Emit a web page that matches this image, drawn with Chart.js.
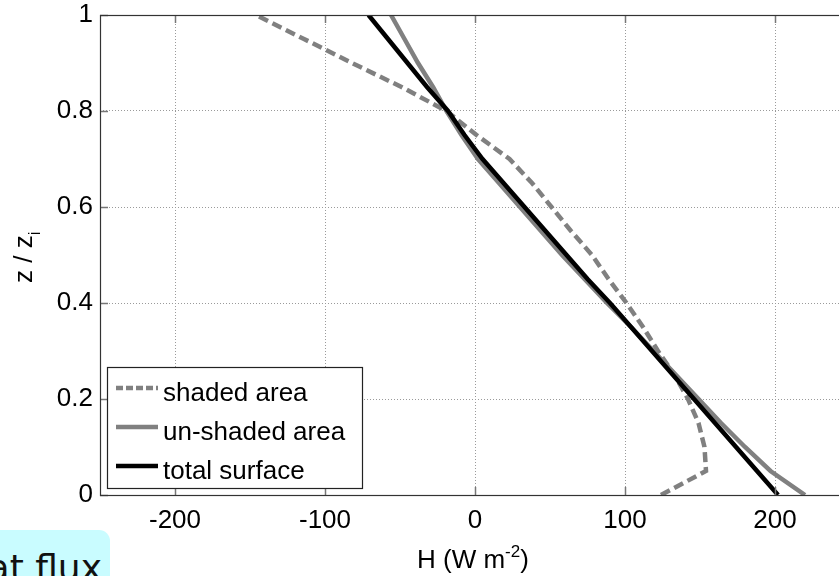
<!DOCTYPE html>
<html>
<head>
<meta charset="utf-8">
<script src="https://cdn.jsdelivr.net/npm/chart.js@4/dist/chart.umd.min.js"></script>
<style>
  html, body { margin: 0; padding: 0; background: #ffffff; overflow: hidden; width: 839px; height: 576px; }
  #wrap { position: relative; width: 839px; height: 576px; overflow: hidden; }
  canvas { position: absolute; left: 0; top: 0; }
  #note { position: absolute; left: 0; top: 530px; width: 110px; height: 60px; background: #c9fcff;
          border-top-right-radius: 11px; overflow: hidden; }
  #note span { position: absolute; right: 8px; top: 20px; font-family: "DejaVu Sans", sans-serif;
          font-size: 36px; color: #111; white-space: nowrap; line-height: 1; }
</style>
</head>
<body>
<div id="wrap">
  <canvas id="c" width="860" height="576"></canvas>
  <div id="note"><span>at flux</span></div>
</div>
<script>
// ---- data ----
const zLevels = [0, 0.05, 0.1, 0.15, 0.2, 0.25, 0.3, 0.35, 0.4, 0.45, 0.5, 0.55, 0.6, 0.65, 0.7, 0.75, 0.8, 0.85, 0.9, 0.95, 1];
const shadedH   = [124, 154, 153, 149, 142, 133, 122, 112, 101, 89, 78, 64, 51, 38, 23, 1, -19, -49, -82, -114, -146];
const unshadedH = [220, 197, 180, 164, 149, 134, 119, 104, 88, 73, 58, 44, 30, 16, 2, -9, -19, -28, -38, -47, -56];
const totalH    = [202, 188, 174, 160, 146, 132, 118, 104, 90, 75, 61, 47, 33, 19, 5, -7, -18, -32, -45, -58, -71];
const seriesNames = ['shaded area', 'un-shaded area', 'total surface'];
const xTicks = [-200, -100, 0, 100, 200];
const yTicks = [0, 0.2, 0.4, 0.6, 0.8, 1];

const FONT = "'Liberation Sans', Arial, Helvetica, sans-serif";

function pts(h) { return zLevels.map((z, i) => ({ x: h[i], y: z })); }

const styles = [
  { color: '#808080', dash: [10, 5], width: 4.5 },
  { color: '#808080', dash: [], width: 4.5 },
  { color: '#000000', dash: [], width: 4.5 }
];
const values = [shadedH, unshadedH, totalH];

const datasets = values.map((v, i) => ({
  label: seriesNames[i],
  data: pts(v),
  borderColor: styles[i].color,
  borderDash: styles[i].dash,
  borderWidth: styles[i].width,
  pointRadius: 0,
  tension: 0,
  fill: false,
  order: 3 - i
}));

const decor = {
  id: 'decor',
  afterDatasetsDraw(chart) {
    const ctx = chart.ctx;
    const a = chart.chartArea;
    const xs = chart.scales.x, ys = chart.scales.y;
    ctx.save();
    // inner tick marks
    ctx.strokeStyle = '#777';
    ctx.lineWidth = 1.5;
    ctx.setLineDash([]);
    xTicks.forEach(v => {
      const px = Math.round(xs.getPixelForValue(v)) + 0.5;
      ctx.beginPath();
      ctx.moveTo(px, a.bottom); ctx.lineTo(px, a.bottom - 8);
      ctx.moveTo(px, a.top); ctx.lineTo(px, a.top + 8);
      ctx.stroke();
    });
    yTicks.forEach(v => {
      const py = Math.round(ys.getPixelForValue(v)) + 0.5;
      ctx.beginPath();
      ctx.moveTo(a.left, py); ctx.lineTo(a.left + 8, py);
      ctx.moveTo(a.right, py); ctx.lineTo(a.right - 8, py);
      ctx.stroke();
    });
    // frame
    ctx.strokeStyle = '#333';
    ctx.lineWidth = 1.2;
    ctx.strokeRect(Math.round(a.left) + 0.5, Math.round(a.top) + 0.5, Math.round(a.right - a.left), Math.round(a.bottom - a.top));

    // legend
    const lx = 107, ly = 367, lw = 255, lh = 121;
    ctx.fillStyle = '#fff';
    ctx.fillRect(lx, ly, lw, lh);
    ctx.strokeStyle = '#222';
    ctx.lineWidth = 1.2;
    ctx.strokeRect(lx + 0.5, ly + 0.5, lw, lh);
    ctx.font = '26px ' + FONT;
    ctx.textAlign = 'left';
    ctx.textBaseline = 'alphabetic';
    seriesNames.forEach((name, i) => {
      const ry = 388 + i * 39;
      ctx.strokeStyle = styles[i].color;
      ctx.lineWidth = styles[i].width;
      ctx.setLineDash(styles[i].dash.length ? [7, 3] : []);
      ctx.beginPath();
      ctx.moveTo(116, ry); ctx.lineTo(158, ry);
      ctx.stroke();
      ctx.setLineDash([]);
      ctx.fillStyle = '#000';
      ctx.fillText(name, 163, ry + 13);
    });

    // x axis title: H (W m^-2)
    ctx.fillStyle = '#000';
    ctx.font = '26px ' + FONT;
    const t1 = 'H (W m', sup = '-2', t2 = ')';
    const w1 = ctx.measureText(t1).width;
    ctx.font = '17px ' + FONT;
    const ws = ctx.measureText(sup).width;
    const sx = 417;
    const base = 568;
    ctx.font = '26px ' + FONT;
    ctx.fillText(t1, sx, base);
    ctx.font = '17px ' + FONT;
    ctx.fillText(sup, sx + w1, base - 11);
    ctx.font = '26px ' + FONT;
    ctx.fillText(t2, sx + w1 + ws, base);

    // y axis title: z / z_i (rotated)
    ctx.save();
    ctx.translate(32, 283);
    ctx.rotate(-Math.PI / 2);
    ctx.font = '26px ' + FONT;
    const y1 = 'z / z';
    const wy = ctx.measureText(y1).width;
    ctx.fillText(y1, 0, 0);
    ctx.font = '17px ' + FONT;
    ctx.fillText('i', wy, 8);
    ctx.restore();

    ctx.restore();
  }
};

new Chart(document.getElementById('c'), {
  type: 'line',
  data: { datasets },
  options: {
    responsive: false,
    animation: false,
    events: [],
    layout: { padding: { top: 15, right: 10, left: 0, bottom: 0 } },
    plugins: { legend: { display: false }, tooltip: { enabled: false } },
    scales: {
      x: {
        type: 'linear',
        min: -250, max: 250,
        afterBuildTicks: s => { s.ticks = xTicks.map(v => ({ value: v })); },
        afterFit: s => { s.height = 81; s.paddingLeft = 0; s.paddingRight = 0; },
        grid: { color: '#9a9a9a', lineWidth: 1, drawTicks: false },
        border: { display: false, dash: [1, 2] },
        ticks: { font: { size: 26, family: FONT }, color: '#000', padding: 10, maxRotation: 0 }
      },
      y: {
        type: 'linear',
        min: 0, max: 1,
        afterBuildTicks: s => { s.ticks = yTicks.map(v => ({ value: v })); },
        afterFit: s => { s.width = 100; s.paddingTop = 0; s.paddingBottom = 0; },
        grid: { color: '#9a9a9a', lineWidth: 1, drawTicks: false },
        border: { display: false, dash: [1, 2] },
        ticks: { font: { size: 26, family: FONT }, color: '#000', padding: 7,
                 callback: v => String(+v.toFixed(1)) }
      }
    }
  },
  plugins: [decor]
});
</script>
</body>
</html>
